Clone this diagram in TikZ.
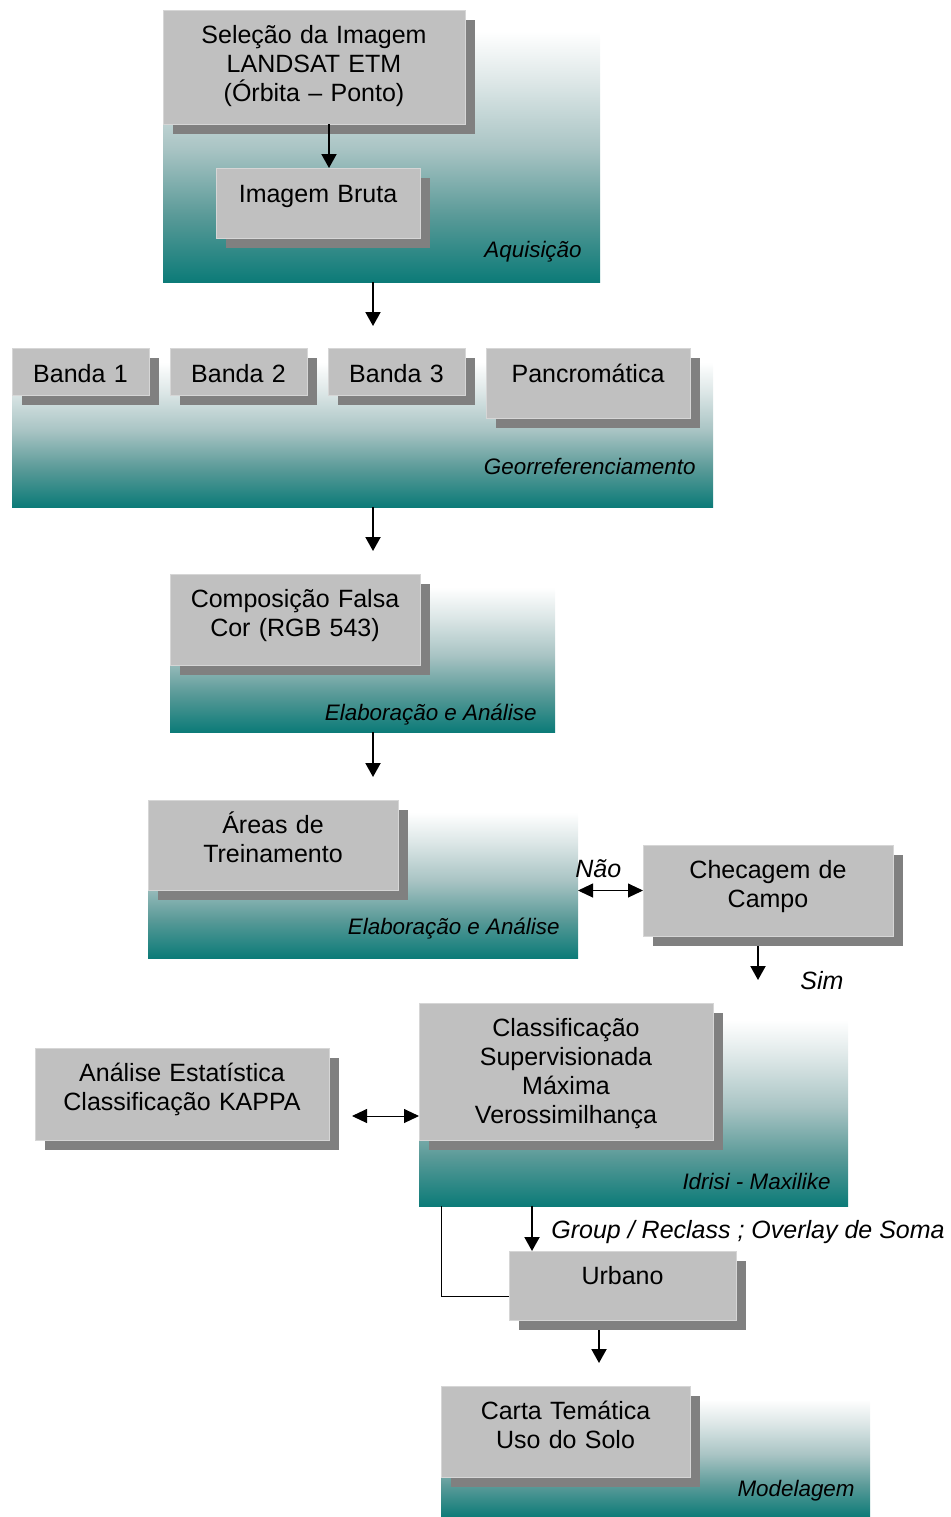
\documentclass[tikz,border=0pt]{standalone}
\usepackage{fontspec}
\setmainfont{Liberation Sans}
\usetikzlibrary{shadows,arrows.meta}

\definecolor{tealA}{HTML}{0C7B78}
\definecolor{tealB}{HTML}{5A9A98}
\definecolor{tealC}{HTML}{A9C4C4}
\definecolor{tealD}{HTML}{DDE7E7}
\definecolor{boxgray}{HTML}{C0C0C0}
\definecolor{boxedge}{HTML}{D6D6D6}
\definecolor{shadowgray}{HTML}{808080}

% the visible band of a declared shading is 25bp..75bp
\pgfdeclareverticalshading{panelfade}{100bp}{color(0bp)=(tealA); color(25bp)=(tealA); color(37.5bp)=(tealB); color(50bp)=(tealC); color(62.5bp)=(tealD); color(72bp)=(white); color(100bp)=(white)}

\tikzset{
  wh/.style 2 args={minimum width=#1*0.5pt, minimum height=#2*0.5pt},
  panel/.style={shading=panelfade, draw=none, inner sep=0pt, outer sep=0pt, anchor=north west},
  stagebox/.style={fill=boxgray, draw=boxedge, line width=0.5pt, inner sep=0pt, outer sep=0pt, anchor=north west,
    drop shadow={shadow xshift=5pt, shadow yshift=-5pt, fill=shadowgray, opacity=1}},
  btext/.style={font=\fontsize{12.5}{14.5}\selectfont, align=center, text width=160pt, anchor=base, inner sep=0pt},
  plabel/.style={font=\fontsize{11.2}{13}\selectfont\itshape, anchor=base east, inner sep=0pt},
  flabel/.style={font=\fontsize{12.5}{14.5}\selectfont\itshape, anchor=base west, inner sep=0pt},
  arr/.style={line width=1pt, -{Triangle[length=7pt, width=7.5pt]}},
  dbl/.style={line width=0.5pt, {Triangle[length=7.5pt, width=7pt]}-{Triangle[length=7.5pt, width=7pt]}},
  link/.style={line width=0.5pt},
}

\begin{document}
\begin{tikzpicture}[x=0.5pt, y=-0.5pt]
\useasboundingbox (0,0) rectangle (950,1517);

% stage panels
\node[panel, wh={437}{267}] (p1) at (163,15) {};
\node[panel, wh={701}{154}] (p2) at (12,353) {};
\node[panel, wh={385}{154}] (p3) at (170,578) {};
\node[panel, wh={430}{155}] (p4) at (148,803) {};
\node[panel, wh={429}{198}] (p5) at (419,1008) {};
\node[panel, wh={429}{125}] (p6) at (441,1392) {};

\node[plabel] (l1) at (582,257) {Aquisição};
\node[plabel] (l2) at (696,474) {Georreferenciamento};
\node[plabel] (l3) at (537,720) {Elaboração e Análise};
\node[plabel] (l4) at (560,934) {Elaboração e Análise};
\node[plabel] (l5) at (831,1189) {Idrisi - Maxilike};
\node[plabel] (l6) at (855,1496) {Modelagem};

% process boxes
\node[stagebox, wh={302}{114}] (sel) at (163,10) {};
\node[btext] (selt) at ([yshift=-16.5pt]sel.north) {Seleção da Imagem\\LANDSAT ETM\\(Órbita – Ponto)};

\node[stagebox, wh={204}{70}] (bruta) at (216,168) {};
\node[btext] (brutat) at ([yshift=-17pt]bruta.north) {Imagem Bruta};

\node[stagebox, wh={137}{47}] (b1) at (12,348) {};
\node[btext] (b1t) at ([yshift=-17pt]b1.north) {Banda 1};
\node[stagebox, wh={137}{47}] (b2) at (170,348) {};
\node[btext] (b2t) at ([yshift=-17pt]b2.north) {Banda 2};
\node[stagebox, wh={137}{47}] (b3) at (328,348) {};
\node[btext] (b3t) at ([yshift=-17pt]b3.north) {Banda 3};
\node[stagebox, wh={204}{70}] (pan) at (486,348) {};
\node[btext] (pant) at ([yshift=-17pt]pan.north) {Pancromática};

\node[stagebox, wh={250}{91}] (comp) at (170,574) {};
\node[btext] (compt) at ([yshift=-16.5pt]comp.north) {Composição Falsa\\Cor (RGB 543)};

\node[stagebox, wh={250}{90}] (areas) at (148,800) {};
\node[btext] (areast) at ([yshift=-16.5pt]areas.north) {Áreas de\\Treinamento};

\node[stagebox, wh={250}{91}] (check) at (643,845) {};
\node[btext] (checkt) at ([yshift=-16.5pt]check.north) {Checagem de\\Campo};

\node[stagebox, wh={294}{137}] (class) at (419,1003) {};
\node[btext] (classt) at ([yshift=-16.5pt]class.north) {Classificação\\Supervisionada\\Máxima\\Verossimilhança};

\node[stagebox, wh={294}{92}] (anal) at (35,1048) {};
\node[btext] (analt) at ([yshift=-16.5pt]anal.north) {Análise Estatística\\Classificação KAPPA};

\node[stagebox, wh={227}{69}] (urb) at (509,1251) {};
\node[btext] (urbt) at ([yshift=-16.5pt]urb.north) {Urbano};

\node[stagebox, wh={249}{91}] (carta) at (441,1386) {};
\node[btext] (cartat) at ([yshift=-16.5pt]carta.north) {Carta Temática\\Uso do Solo};

% free arrow ends
\coordinate (e1) at (373,326);
\coordinate (e2) at (373,551);
\coordinate (e3) at (373,777);
\coordinate (e4) at (758,980);
\coordinate (e5) at (352,1116);
\coordinate (e6) at (599,1363);

% connectors
\draw[arr] ([xshift=7.5pt]sel.south) -- ([xshift=7.5pt]sel.south |- bruta.north);
\draw[arr] (p1.south -| e1) -- (e1);
\draw[arr] (p2.south -| e2) -- (e2);
\draw[arr] (p3.south -| e3) -- (e3);
\draw[dbl] (p4.east |- check.west) -- (check.west);
\draw[arr] ([xshift=-5pt, yshift=-5pt]check.south) -- (e4);
\draw[dbl] (e5) -- (e5 -| class.west);
\draw[arr] ([xshift=11.5pt]urb.north west |- p5.south) -- ([xshift=11.5pt]urb.north west);
\draw[link] ([xshift=11pt]p5.south west) |- ([yshift=-5.25pt]urb.west);
\draw[arr] ([xshift=-11.75pt, yshift=-5pt]urb.south) -- (e6);

% connector labels
\node[flabel] (nao) at (575,877) {Não};
\node[flabel] (sim) at (800,989) {Sim};
\node[flabel] (grp) at (551,1238) {Group / Reclass ; Overlay de Soma};
\end{tikzpicture}
\end{document}
